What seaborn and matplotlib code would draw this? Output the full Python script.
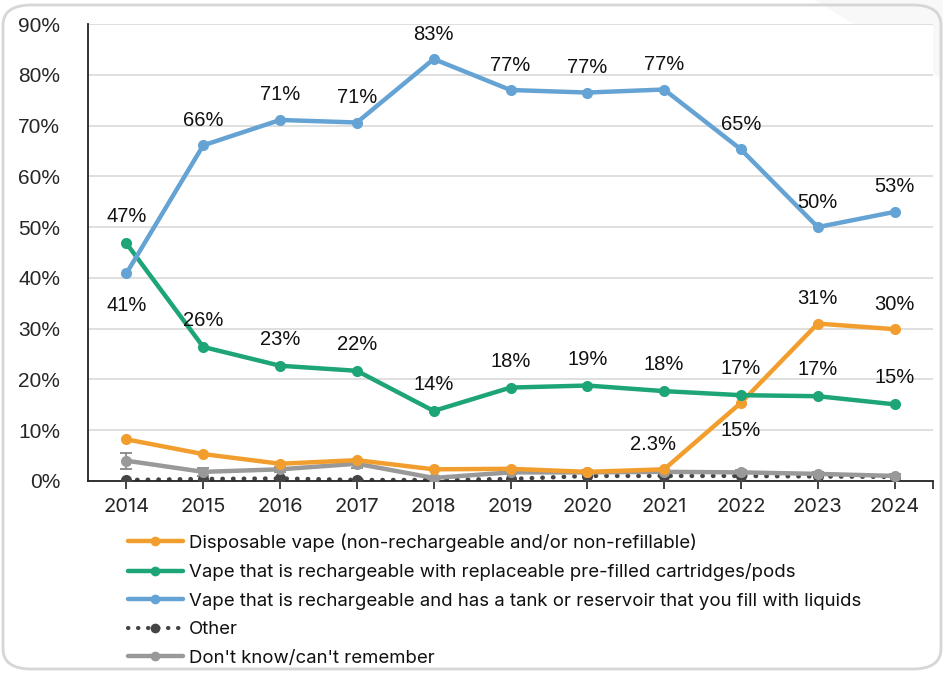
import numpy as np
import pandas as pd
import matplotlib
matplotlib.use("Agg")
import matplotlib.pyplot as plt
import seaborn as sns
from matplotlib.patches import FancyBboxPatch, Polygon
from matplotlib.lines import Line2D

years = [2014, 2015, 2016, 2017, 2018, 2019, 2020, 2021, 2022, 2023, 2024]
disposable = [8.2, 5.3, 3.4, 4.1, 2.3, 2.4, 1.8, 2.3, 15.4, 31.0, 29.9]
prefilled = [46.8, 26.4, 22.7, 21.7, 13.8, 18.4, 18.8, 17.7, 16.9, 16.7, 15.1]
tank = [40.9, 66.1, 71.1, 70.6, 83.1, 77.0, 76.5, 77.1, 65.3, 50.0, 53.0]
other = [0.2, 0.4, 0.5, 0.2, 0.2, 0.4, 1.0, 1.0, 1.0, 0.9, 0.8]
dontknow = [4.0, 1.8, 2.3, 3.4, 0.6, 1.7, 1.7, 1.8, 1.7, 1.4, 1.0]
dontknow_err = [1.6, 0.8, 0.5, 0.8, 0.3, 0.4, 0.4, 0.4, 0.4, 0.3, 0.3]

disp_labels = ["", "", "", "", "", "", "", "2.3%", "15%", "31%", "30%"]
pre_labels = ["47%", "26%", "23%", "22%", "14%", "18%", "19%", "18%", "17%", "17%", "15%"]
tank_labels = ["41%", "66%", "71%", "71%", "83%", "77%", "77%", "77%", "65%", "50%", "53%"]

names = [
    "Disposable vape (non-rechargeable and/or non-refillable)",
    "Vape that is rechargeable with replaceable pre-filled cartridges/pods",
    "Vape that is rechargeable and has a tank or reservoir that you fill with liquids",
    "Other",
    "Don't know/can't remember",
]
colors = ["#F29E2E", "#1DA477", "#64A3D3", "#454545", "#999999"]

sns.set_theme(style="white")
plt.rcParams["font.family"] = ["Liberation Sans", "DejaVu Sans"]

fig = plt.figure(figsize=(9.47, 6.73), dpi=100)
ax = fig.add_axes([88/947, 1-481/673, (933-88)/947, (481-24)/673])

# background decorations: rounded frame and faint diagonal shade
shade = Polygon([[815/947, 1.0], [943/947, 1.0], [943/947, 1-80/673]], closed=True,
                transform=fig.transFigure, facecolor="#f8f8f8", edgecolor="none", zorder=-2)
fig.patches.append(shade)
frame = FancyBboxPatch((3/947, 4/673), (941-3)/947, (668-4)/673,
                       boxstyle="round,pad=0,rounding_size=0.03",
                       transform=fig.transFigure, facecolor="none",
                       edgecolor="#d6d6d6", linewidth=2.0, zorder=-1)
fig.patches.append(frame)

# long-form data for the solid series
df = pd.DataFrame({
    "year": years * 3,
    "value": disposable + prefilled + tank,
    "series": [names[0]] * 11 + [names[1]] * 11 + [names[2]] * 11,
})

# Don't know with errorbars
ax.errorbar(years, dontknow, yerr=dontknow_err, fmt="none", ecolor="#888888",
            elinewidth=1.3, capsize=4.5, capthick=1.3, zorder=2)
sns.lineplot(x=years, y=dontknow, ax=ax, color=colors[4], linewidth=3.2,
             marker="o", markersize=8, markeredgewidth=0, zorder=3, legend=False)
# Other (dotted)
ax.plot(years, other, color=colors[3], linestyle=(0, (0.1, 2.3)), linewidth=3.2,
        dash_capstyle="round", zorder=2.5)
ax.plot(years, other, color=colors[3], linestyle="none", marker="o",
        markersize=8, markeredgewidth=0, zorder=2.6)

sns.lineplot(data=df, x="year", y="value", hue="series", hue_order=names[:3],
             palette=colors[:3], linewidth=3.2, marker="o", markersize=8,
             markeredgewidth=0, ax=ax, legend=False, zorder=4)

ax.set_xlim(2013.5, 2024.5)
ax.set_ylim(0, 90)
ax.set_yticks(np.arange(0, 91, 10))
ax.set_yticklabels([f"{v}%" for v in range(0, 91, 10)], fontsize=15)
ax.set_xticks(years + [2024.5])
ax.set_xticklabels([str(y) for y in years] + [""], fontsize=14.5,
                   fontfamily=["Inter", "DejaVu Sans"])
ax.tick_params(axis="x", direction="out", length=6, width=1.2, color="#222222",
               bottom=True, pad=6)
ax.tick_params(axis="y", length=0, pad=20)
ax.grid(axis="y", color="#d9d9d9", linewidth=1.2)
ax.set_axisbelow(True)
for s in ["top", "right"]:
    ax.spines[s].set_visible(False)
for s in ["left", "bottom"]:
    ax.spines[s].set_color("#222222")
    ax.spines[s].set_linewidth(1.3)
ax.set_xlabel("")
ax.set_ylabel("")

lab_kw = dict(fontsize=14.5, ha="center", va="center", color="#111111",
              textcoords="offset points", zorder=6)
for i, y in enumerate(years):
    off = (0, 18)
    if i == 0:
        off = (0, -23)
    ax.annotate(tank_labels[i], (y, tank[i]), xytext=off, **lab_kw)
    ax.annotate(pre_labels[i], (y, prefilled[i]), xytext=(0, 19), **lab_kw)
    if disp_labels[i]:
        off = (0, 18)
        if i == 7:
            off = (-8, 18)
        if i == 8:
            off = (0, -20)
        ax.annotate(disp_labels[i], (y, disposable[i]), xytext=off, **lab_kw)

handles = [
    Line2D([0], [0], color=colors[0], lw=3.2, marker="o", markersize=7, markeredgewidth=0),
    Line2D([0], [0], color=colors[1], lw=3.2, marker="o", markersize=7, markeredgewidth=0),
    Line2D([0], [0], color=colors[2], lw=3.2, marker="o", markersize=7, markeredgewidth=0),
    Line2D([0], [0], color=colors[3], lw=3.0, linestyle=(0, (0.1, 2.3)),
           dash_capstyle="round", marker="o", markersize=7, markeredgewidth=0),
    Line2D([0], [0], color=colors[4], lw=3.2, marker="o", markersize=7, markeredgewidth=0),
]
leg = fig.legend(handles, names, loc="upper left", bbox_to_anchor=(128/947, 1-533/673),
                 frameon=False, handlelength=2.95, handletextpad=0.33,
                 labelspacing=0.62, borderaxespad=0, borderpad=0,
                 prop={"family": ["Inter", "DejaVu Sans"], "size": 13.4})
for t in leg.get_texts():
    t.set_color("#111111")

fig.savefig("out.png", dpi=100)
